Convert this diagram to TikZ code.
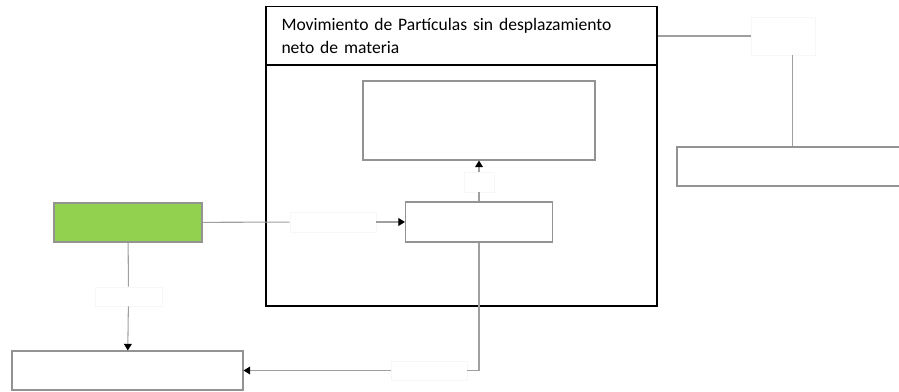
\documentclass[tikz,border=0pt]{standalone}
\usepackage{fontspec}
\setmainfont{Carlito}
\usetikzlibrary{arrows.meta}
\definecolor{leaf}{HTML}{92D050}

\begin{document}
\begin{tikzpicture}[x=0.02cm, y=-0.02cm]
			\tikzset{box/.style={draw=gray!85, line width=0.6pt, rectangle, inner sep=0pt, fill=white},
				tag/.style={draw=gray!6, line width=0.4pt, rectangle, inner sep=0pt, fill=white},
				frame/.style={draw=black, line width=0.9pt, rectangle, inner sep=0pt},
				link/.style={draw=gray!75, line width=0.6pt},
				tip/.style={-{Triangle[width=4.5pt, length=3.8pt, color=black]}}}
			
			\clip (0,0) rectangle (899,392);
			\useasboundingbox (0,0) rectangle (899,392);
			
			\node[frame, minimum width=391*0.02cm, minimum height=241*0.02cm] (f_body) at (461.5,185.5) {};
			\node[frame, minimum width=391*0.02cm, minimum height=59*0.02cm, text width=360*0.02cm, align=left, font=\fontsize{10}{13}\selectfont] (f_head) at (461.5,36) {Movimiento de Partículas sin desplazamiento\\neto de materia};
			
			\node[box, minimum width=232*0.02cm, minimum height=79*0.02cm] (v_1) at (479,120.5) {};
			\node[box, minimum width=147*0.02cm, minimum height=40*0.02cm] (v_2) at (479,222) {};
			\node[box, fill=leaf, minimum width=148*0.02cm, minimum height=39*0.02cm] (v_3) at (128,222.5) {};
			\node[box, minimum width=231*0.02cm, minimum height=39*0.02cm] (v_4) at (127.5,370.5) {};
			\node[box, minimum width=231*0.02cm, minimum height=39*0.02cm] (v_5) at (792.5,166.5) {};
			
			\node[tag, minimum width=30*0.02cm, minimum height=20*0.02cm] (t_1) at (479,182) {};
			\node[tag, minimum width=86*0.02cm, minimum height=20*0.02cm] (t_2) at (333,222) {};
			\node[tag, minimum width=67*0.02cm, minimum height=19*0.02cm] (t_3) at (128.5,296.5) {};
			\node[tag, minimum width=76*0.02cm, minimum height=19*0.02cm] (t_4) at (429,370.5) {};
			\node[tag, minimum width=64*0.02cm, minimum height=38*0.02cm] (t_5) at (783.5,36) {};
			
			\draw[link] (v_2) -- (t_1);
			\draw[link, tip] (t_1) -- (v_1);
			\draw[link] (v_3) -- (t_2);
			\draw[link, tip] (t_2) -- (v_2);
			\draw[link] (v_3) -- (t_3);
			\draw[link, tip] (t_3) -- (v_4);
			\draw[link] (v_2.south) |- (t_4.east);
			\draw[link, tip] (t_4) -- (v_4);
			\draw[link] (f_head.east) -- (t_5.west);
			\draw[link] (t_5.south -| v_5.north) -- (v_5.north);
			
		\end{tikzpicture}
\end{document}
